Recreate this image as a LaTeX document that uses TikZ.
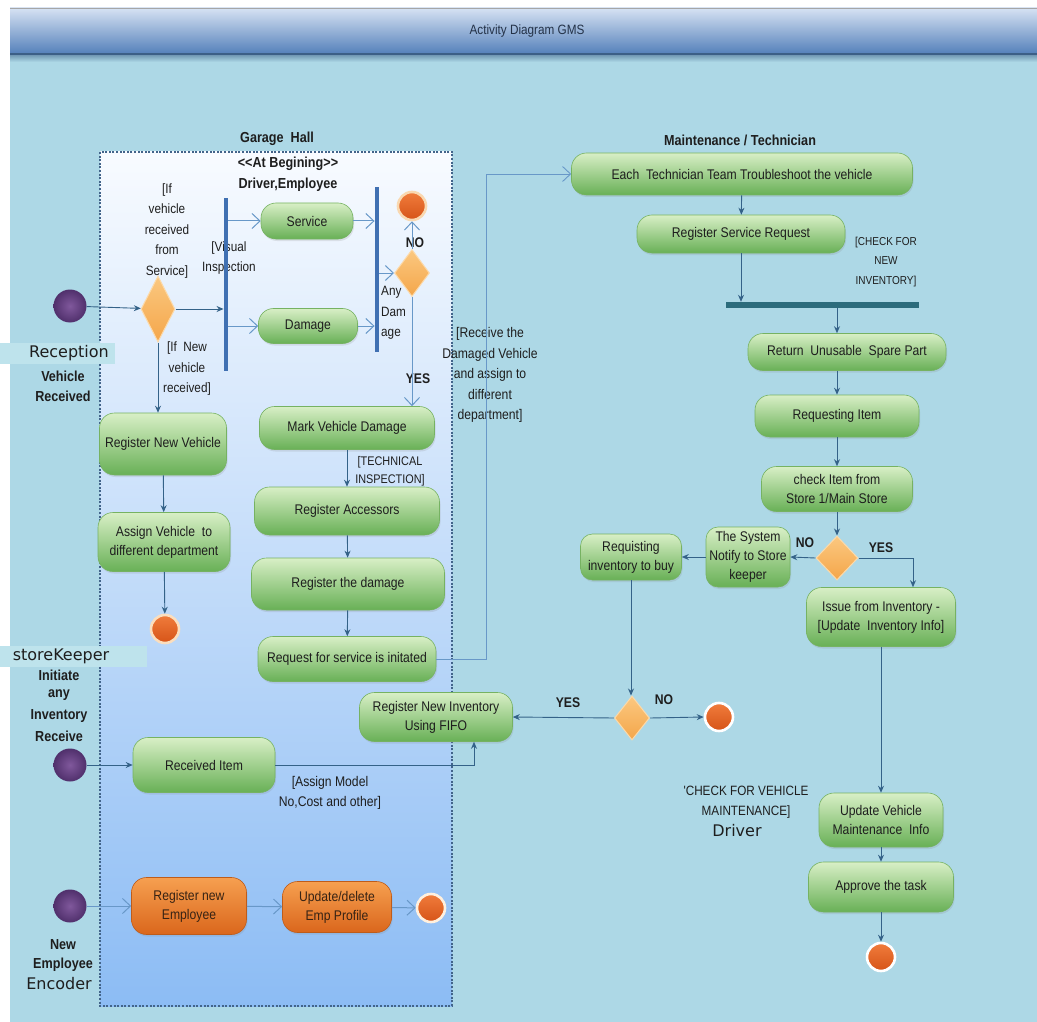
\documentclass[tikz,border=0pt]{standalone}
\usepackage{fontspec}
\usetikzlibrary{shapes.geometric,arrows.meta,shadows}
\newfontfamily\nar[FakeStretch=0.87]{Liberation Sans}
\newfontfamily\dv{DejaVu Sans}

\definecolor{bg}{RGB}{173,216,230}
\definecolor{hdTop}{RGB}{214,226,243}
\definecolor{hdBot}{RGB}{84,128,186}
\definecolor{hdLine}{RGB}{60,95,134}
\definecolor{gTop}{RGB}{248,251,255}
\definecolor{gMid}{RGB}{208,228,251}
\definecolor{gBot}{RGB}{140,188,244}
\definecolor{gEdge}{RGB}{66,100,138}
\definecolor{actTop}{RGB}{216,239,198}
\definecolor{actBot}{RGB}{104,176,86}
\definecolor{actEdge}{RGB}{118,178,98}
\definecolor{empTop}{RGB}{246,160,80}
\definecolor{empBot}{RGB}{218,102,28}
\definecolor{empEdge}{RGB}{190,92,26}
\definecolor{diaTop}{RGB}{251,200,128}
\definecolor{diaBot}{RGB}{244,166,74}
\definecolor{diaEdge}{RGB}{252,218,170}
\definecolor{stIn}{RGB}{128,88,156}
\definecolor{stOut}{RGB}{80,48,108}
\definecolor{fnTop}{RGB}{240,124,60}
\definecolor{fnBot}{RGB}{214,84,24}
\definecolor{barBlue}{RGB}{64,112,178}
\definecolor{barTeal}{RGB}{44,108,124}
\definecolor{flowCol}{RGB}{52,98,136}
\definecolor{openCol}{RGB}{104,152,200}
\definecolor{txt}{RGB}{30,30,30}
\definecolor{recBox}{RGB}{190,227,236}

\tikzset{
  act/.style={draw=actEdge, line width=0.6pt, rounded corners=15pt,
    top color=actTop, bottom color=actBot, text=txt, align=center, inner sep=2pt,
    font=\nar\fontsize{14}{19}\selectfont,
    drop shadow={shadow xshift=1pt, shadow yshift=-2pt, opacity=0.18}},
  emp/.style={act, draw=empEdge, top color=empTop, bottom color=empBot, text={rgb,255:red,55;green,35;blue,20}},
  dia/.style={diamond, inner sep=0, draw=diaEdge, line width=1pt, top color=diaTop, bottom color=diaBot},
  start/.style={circle, minimum size=33pt, inner sep=0, inner color=stIn, outer color=stOut},
  final/.style={circle, minimum size=28pt, inner sep=0, line width=2.6pt, top color=fnTop, bottom color=fnBot},
  bar/.style={fill=barBlue, inner sep=0, draw=none},
  lbl/.style={text=txt, align=center, inner sep=0, font=\nar\fontsize{14}{20.5}\selectfont},
  slbl/.style={lbl, font=\nar\fontsize{13.5}{20.5}\selectfont},
  blbl/.style={text=txt, align=center, inner sep=0, font=\nar\bfseries\fontsize{14.5}{20.5}\selectfont},
  yn/.style={blbl, font=\nar\bfseries\fontsize{14}{16}\selectfont},
  vlbl/.style={text=txt, align=center, inner sep=0, font=\dv\fontsize{16}{20}\selectfont},
  flow/.style={draw=flowCol, line width=0.9pt, -{Stealth[length=7pt,width=6pt]}},
  oflow/.style={draw=openCol, line width=1pt, -{Straight Barb[length=8pt,width=15pt]}},
}

\begin{document}
\begin{tikzpicture}[x=1pt,y=-1pt]
\useasboundingbox (0,0) rectangle (1037,1022);
\fill[white] (0,0) rectangle (1037,1022);
\fill[bg] (10,8) rectangle (1037,1022);

% title bar
\shade[top color=hdTop, bottom color=hdBot] (10,8) rectangle (1037,54);
\fill[hdLine] (10,53) rectangle (1037,56);
\shade[top color=bg!55!hdLine, bottom color=bg] (10,56) rectangle (1037,62);
\draw[gray!70, line width=1pt] (10,8.5) -- (1037,8.5);
\node[text={rgb,255:red,36;green,50;blue,72}, font=\nar\fontsize{13.5}{16}\selectfont] (title) at (527,31) {Activity Diagram GMS};

% garage hall partition
\shade[top color=gTop, middle color=gMid, bottom color=gBot] (100,152) rectangle (452,1006);
\draw[gEdge, line width=1.1pt, dash pattern=on 2pt off 1.6pt] (100,152) rectangle (452,1006);
\node[blbl] (lgh) at (277,139) {Garage\ \ Hall};
\node[blbl] (lab) at (288,164) {<{}<At Begining>{}>};
\node[blbl] (ldr) at (288,185) {Driver,Employee};

% actor labels on the left
\node[fill=recBox, minimum width=115pt, minimum height=21pt, inner sep=0, anchor=west] (recbox) at (0,353) {};
\node[vlbl] (lrec) at (69,353) {Reception};
\node[blbl] (lveh) at (63,376) {Vehicle};
\node[blbl] (lrcd) at (63,396) {Received};
\node[fill=recBox, minimum width=147pt, minimum height=21pt, inner sep=0, anchor=west] (skbox) at (0,656) {};
\node[vlbl] (lsk) at (61,656) {storeKeeper};
\node[blbl] (lini) at (59,675) {Initiate};
\node[blbl] (lany2) at (59,695) {any};
\node[blbl] (linv) at (59,716) {Inventory};
\node[blbl] (lrcv2) at (59,736) {Receive};
\node[blbl] (lnew) at (63,945) {New};
\node[blbl] (lemp) at (63,965) {Employee};
\node[vlbl] (lenc) at (59,984) {Encoder};

% guard labels drawn under the bars
\node[slbl] (lif) at (167,231) {[If\\vehicle\\received\\from\\Service]};
\node[slbl] (lvi) at (229,258) {[Visual\\Inspection};
\node[slbl] (lnv) at (187,369) {[If\ \ New\\vehicle\\received]};
\node[slbl, align=left, anchor=west] (lanydam) at (381,313) {Any\\Dam\\age};

% start nodes
\node[start] (s1) at (70,306) {};
\node[start] (s2) at (70,765) {};
\node[start] (s3) at (70,906) {};

% vehicle reception flow
\node[dia, minimum width=34pt, minimum height=66pt] (d1) at (158,309) {};
\node[bar, minimum width=4.5pt, minimum height=173pt] (b1) at (226,284.5) {};
\node[act, minimum width=92pt, minimum height=36pt] (svc) at (307,221) {Service};
\node[act, minimum width=99pt, minimum height=35pt] (dmg) at (308,326) {Damage};
\node[bar, minimum width=4.5pt, minimum height=165pt] (b2) at (377,269.5) {};
\node[dia, minimum width=35pt, minimum height=47pt] (d2) at (412,273) {};
\node[final, draw={rgb,255:red,249;green,216;blue,176}] (f1) at (412,206) {};
\node[yn] (lno1) at (415,243) {NO};
\node[yn] (lyes1) at (418,379) {YES};

\node[act, minimum width=127pt, minimum height=62pt] (rnv) at (163,444) {Register New Vehicle};
\node[act, minimum width=132pt, minimum height=59pt] (asg) at (164,542) {Assign Vehicle\ \ to\\different department};
\node[final, draw={rgb,255:red,251;green,222;blue,190}] (f2) at (165,629) {};

\node[act, minimum width=175pt, minimum height=43pt] (mark) at (347,428) {Mark Vehicle Damage};
\node[act, minimum width=185pt, minimum height=48pt] (acc) at (347,511) {Register Accessors};
\node[act, minimum width=193pt, minimum height=52pt] (rdm) at (348,584) {Register the damage};
\node[act, minimum width=178pt, minimum height=45pt] (req) at (347,659) {Request for service is initated};
\node[lbl, font=\nar\fontsize{12.5}{18}\selectfont] (ltec) at (390,471) {[TECHNICAL\\INSPECTION]};

% inventory receiving
\node[act, minimum width=153pt, minimum height=49pt] (fifo) at (436,717) {Register New Inventory\\Using FIFO};
\node[act, minimum width=142pt, minimum height=55pt] (rcv) at (204,765) {Received Item};
\node[lbl] (lasm) at (330,793) {[Assign Model\\No,Cost and other]};

% employee encoding
\node[emp, minimum width=115pt, minimum height=57pt] (remp) at (189,906) {Register new\\Employee};
\node[emp, minimum width=109pt, minimum height=51pt] (uemp) at (337,907) {Update/delete\\Emp Profile};
\node[final, draw={rgb,255:red,255;green,240;blue,222}] (f3) at (431,908) {};

% maintenance / technician
\node[blbl] (lmt) at (740,140) {Maintenance / Technician};
\node[act, minimum width=341pt, minimum height=42pt] (tech) at (742,174) {Each\ \ Technician Team Troubleshoot the vehicle};
\node[act, minimum width=208pt, minimum height=38pt] (rsr) at (741,234) {Register Service Request};
\node[lbl, font=\nar\fontsize{11.5}{19.5}\selectfont] (lcfn) at (886,262) {[CHECK FOR\\NEW\\INVENTORY]};
\node[bar, fill=barTeal, minimum width=193pt, minimum height=6pt] (b3) at (822,305) {};
\node[act, minimum width=198pt, minimum height=37pt] (ret) at (847,352) {Return\ \ Unusable\ \ Spare Part};
\node[act, minimum width=164pt, minimum height=42pt] (rqi) at (837,416) {Requesting Item};
\node[act, minimum width=151pt, minimum height=45pt] (chk) at (837,489) {check Item from\\Store 1/Main Store};
\node[dia, minimum width=42pt, minimum height=44pt] (d3) at (837,558) {};
\node[act, minimum width=84pt, minimum height=60pt, rounded corners=12pt] (ntf) at (748,557) {The System\\Notify to Store\\keeper};
\node[act, minimum width=101pt, minimum height=46pt, rounded corners=12pt] (buy) at (631,557) {Requisting\\inventory to buy};
\node[act, minimum width=149pt, minimum height=59pt] (iss) at (881,617) {Issue from Inventory -\\{[}Update\ \ Inventory Info{]}};
\node[yn] (lno3) at (805,543) {NO};
\node[yn] (lyes3) at (881,548) {YES};

\node[dia, minimum width=35pt, minimum height=44pt] (d4) at (632,718) {};
\node[final, draw=white] (f4) at (719,717) {};
\node[yn] (lyes4) at (568,703) {YES};
\node[yn] (lno4) at (664,700) {NO};

\node[lbl, font=\nar\fontsize{13.5}{20}\selectfont] (lcvm) at (746,802) {'CHECK FOR VEHICLE\\MAINTENANCE]};
\node[vlbl] (ldrv) at (737,831) {Driver};
\node[act, minimum width=124pt, minimum height=54pt] (upd) at (881,820) {Update Vehicle\\Maintenance\ \ Info};
\node[act, minimum width=145pt, minimum height=50pt] (apr) at (881,887) {Approve the task};
\node[final, draw=white] (f5) at (881,957) {};

\node[lbl] (lrdv) at (490,375) {[Receive the\\Damaged Vehicle\\and assign to\\different\\department]};

% connectors: garage hall
\draw[flow] (s1) -- (d1);
\draw[flow] (d1.east) -- (d1.east -| b1.west);
\draw[oflow] (b1.east |- svc.west) -- (svc.west);
\draw[oflow] (b1.east |- dmg.west) -- (dmg.west);
\draw[oflow] (svc.east) -- (svc.east -| b2.west);
\draw[oflow] (dmg.east) -- (dmg.east -| b2.west);
\draw[oflow] (b2.east |- d2.west) -- (d2.west);
\draw[oflow] (d2.north) -- (f1.south);
\draw[oflow] (d2.south) -- (d2.south |- mark.north);
\draw[flow] (d1.south) -- (d1.south |- rnv.north);
\draw[flow] (rnv) -- (asg);
\draw[flow] (asg) -- (f2);
\draw[flow] (mark) -- (acc);
\draw[flow] (acc) -- (rdm);
\draw[flow] (rdm) -- (req);
\draw[oflow, line width=0.9pt] (req.east) -- ++(50,0) |- (tech.west);

% connectors: inventory and employees
\draw[flow] (s2) -- (rcv);
\draw[flow] (rcv.east) -| ([xshift=38pt]fifo.south);
\draw[oflow] (s3) -- (remp);
\draw[oflow] (remp) -- (uemp);
\draw[oflow] (uemp) -- (f3);

% connectors: maintenance
\draw[flow] (tech) -- (rsr);
\draw[flow] (rsr.south) -- (rsr.south |- b3.north);
\draw[flow] (b3.south -| rqi.north) -- (ret.north -| rqi.north);
\draw[flow] (ret.south -| rqi.north) -- (rqi.north);
\draw[flow] (rqi) -- (chk);
\draw[flow] (chk) -- (d3);
\draw[flow] (d3.west) -- (ntf.east);
\draw[flow] (ntf.west) -- (buy.east);
\draw[flow] (d3.east) -| ([xshift=32pt]iss.north);
\draw[flow] (buy.south) -- (buy.south |- d4.north);
\draw[flow] (d4.west) -- (fifo.east);
\draw[flow] (d4.east) -- (f4.west);
\draw[flow] (iss) -- (upd);
\draw[flow] (upd) -- (apr);
\draw[flow] (apr) -- (f5);
\end{tikzpicture}
\end{document}
